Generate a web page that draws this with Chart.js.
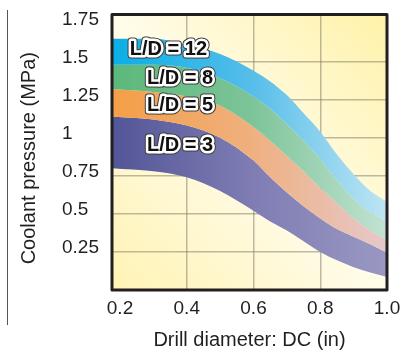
<!DOCTYPE html>
<html>
<head>
<meta charset="utf-8">
<script src="https://cdn.jsdelivr.net/npm/chart.js"></script>
<style>
  html, body { margin: 0; padding: 0; background: #fff; }
  #wrap { width: 409px; height: 353px; }
</style>
</head>
<body>
<div id="wrap"><canvas id="chart"></canvas></div>
<script>
// drill diameter (in) where the band edges were read
const diameters = [0.176, 0.3, 0.4, 0.5, 0.6, 0.65, 0.7, 0.75, 0.8, 0.85, 0.9, 0.95, 1.0];
// band edges, coolant pressure (MPa), top to bottom
const top12 = [1.65, 1.65, 1.61, 1.55, 1.44, 1.37, 1.28, 1.16, 1.04, 0.89, 0.76, 0.65, 0.58];
const top8  = [1.48, 1.48, 1.46, 1.39, 1.27, 1.19, 1.09, 0.98, 0.86, 0.72, 0.60, 0.51, 0.45];
const top5  = [1.32, 1.30, 1.27, 1.21, 1.07, 0.98, 0.88, 0.78, 0.67, 0.57, 0.47, 0.39, 0.33];
const top3  = [1.14, 1.12, 1.08, 1.00, 0.85, 0.74, 0.64, 0.55, 0.47, 0.40, 0.35, 0.30, 0.245];
const bottom3 = [0.80, 0.78, 0.74, 0.65, 0.52, 0.45, 0.39, 0.32, 0.25, 0.195, 0.15, 0.115, 0.085];

const bandNames = ["L/D = 12", "L/D = 8", "L/D = 5", "L/D = 3"];
const labelX = [0.345, 0.38, 0.38, 0.38];
const labelY = [1.58, 1.39, 1.21, 0.95];

const xTicks = [0.2, 0.4, 0.6, 0.8, 1.0];
const yTicks = [0.25, 0.5, 0.75, 1, 1.25, 1.5, 1.75];

const FONT = '"Liberation Sans", Arial, Helvetica, sans-serif';
const INK = "#231f20";

// left-to-right fades for each band
const bandStops = [
  ["#0aaee6", "#55bde9", "#bfe5f3"],
  ["#5cb87a", "#7cc498", "#c2e2d3"],
  ["#f59e46", "#efb07e", "#e6c8cc"],
  ["#525597", "#7e7cb3", "#9a98c2"],
];

function bandFill(i) {
  return function (ctx) {
    const area = ctx.chart.chartArea;
    if (!area) return bandStops[i][0];
    const g = ctx.chart.ctx.createLinearGradient(area.left, 0, area.right, 0);
    g.addColorStop(0, bandStops[i][0]);
    g.addColorStop(0.5, bandStops[i][1]);
    g.addColorStop(1, bandStops[i][2]);
    return g;
  };
}

function edge(values, fill, i) {
  return {
    data: diameters.map((d, k) => ({ x: d, y: values[k] })),
    fill: fill,
    backgroundColor: fill ? bandFill(i) : "transparent",
    borderWidth: 0,
    pointRadius: 0,
    cubicInterpolationMode: "monotone",
  };
}

const backdrop = {
  id: "backdrop",
  beforeDraw(chart) {
    const { ctx, chartArea: a } = chart;
    const g = ctx.createLinearGradient(a.right, a.top, a.left, a.bottom);
    g.addColorStop(0, "#fff2a8");
    g.addColorStop(0.5, "#fffcea");
    g.addColorStop(1, "#fff3b4");
    ctx.save();
    ctx.fillStyle = g;
    ctx.fillRect(a.left, a.top, a.width, a.height);
    ctx.restore();
  },
};

const decorations = {
  id: "decorations",
  afterDatasetsDraw(chart) {
    const { ctx, chartArea: a, scales: { x, y } } = chart;
    ctx.save();
    // band labels
    ctx.font = "bold 20px " + FONT;
    ctx.textAlign = "center";
    ctx.textBaseline = "middle";
    ctx.lineJoin = "round";
    bandNames.forEach((name, i) => {
      const px = x.getPixelForValue(labelX[i]);
      const py = y.getPixelForValue(labelY[i]);
      ctx.lineWidth = 7;
      ctx.strokeStyle = "#3a3a3a";
      ctx.strokeText(name, px, py);
      ctx.lineWidth = 5;
      ctx.strokeStyle = "#ffffff";
      ctx.strokeText(name, px, py);
      ctx.fillStyle = "#111111";
      ctx.fillText(name, px, py);
    });
    // plot frame
    ctx.lineWidth = 3;
    ctx.strokeStyle = INK;
    ctx.strokeRect(a.left, a.top, a.width, a.height);
    ctx.restore();
  },
  afterDraw(chart) {
    const { ctx, chartArea: a } = chart;
    ctx.save();
    // y axis title
    ctx.font = "20px " + FONT;
    ctx.fillStyle = INK;
    ctx.textAlign = "center";
    ctx.textBaseline = "middle";
    ctx.translate(29, (a.top + a.bottom) / 2 + 6);
    ctx.rotate(-Math.PI / 2);
    ctx.fillText("Coolant pressure (MPa)", 0, 0);
    ctx.restore();
    // thin rule at the far left
    ctx.save();
    ctx.strokeStyle = "#555";
    ctx.lineWidth = 1;
    ctx.beginPath();
    ctx.moveTo(7.5, 10);
    ctx.lineTo(7.5, 325);
    ctx.stroke();
    ctx.restore();
  },
};

const gridColor = "rgba(125,120,95,0.5)";

new Chart(document.getElementById("chart"), {
  type: "line",
  data: {
    datasets: [
      edge(top12, "+1", 0),
      edge(top8, "+1", 1),
      edge(top5, "+1", 2),
      edge(top3, "+1", 3),
      edge(bottom3, false, 0),
    ],
  },
  options: {
    responsive: true,
    maintainAspectRatio: false,
    animation: false,
    layout: { padding: { left: 62, top: 13, right: 22, bottom: 0 } },
    plugins: { legend: { display: false }, tooltip: { enabled: false } },
    scales: {
      x: {
        type: "linear",
        min: 0.176,
        max: 1.0,
        afterBuildTicks: (s) => { s.ticks = xTicks.map((v) => ({ value: v })); },
        afterFit: (s) => { s.height = 63; },
        border: { display: false },
        grid: {
          drawTicks: false,
          lineWidth: 1.5,
          color: (c) => (c.tick && (c.tick.value === 0.2 || c.tick.value === 1.0) ? "transparent" : gridColor),
        },
        ticks: {
          padding: 7,
          color: INK,
          font: { family: FONT, size: 19 },
          callback: (v) => Number(v).toFixed(1),
        },
        title: {
          display: true,
          text: "Drill diameter: DC (in)",
          color: INK,
          font: { family: FONT, size: 20 },
          padding: { top: 0, bottom: 1 },
        },
      },
      y: {
        min: 0,
        max: 1.81,
        afterBuildTicks: (s) => { s.ticks = yTicks.map((v) => ({ value: v })); },
        afterFit: (s) => { s.width = 50; },
        border: { display: false },
        grid: {
          drawTicks: false,
          lineWidth: 1.5,
          color: (c) => (c.tick && c.tick.value === 1.75 ? "transparent" : gridColor),
        },
        ticks: {
          crossAlign: "far",
          labelOffset: -4,
          color: INK,
          font: { family: FONT, size: 19 },
          callback: (v) => String(v),
        },
      },
    },
  },
  plugins: [backdrop, decorations],
});
</script>
</body>
</html>
